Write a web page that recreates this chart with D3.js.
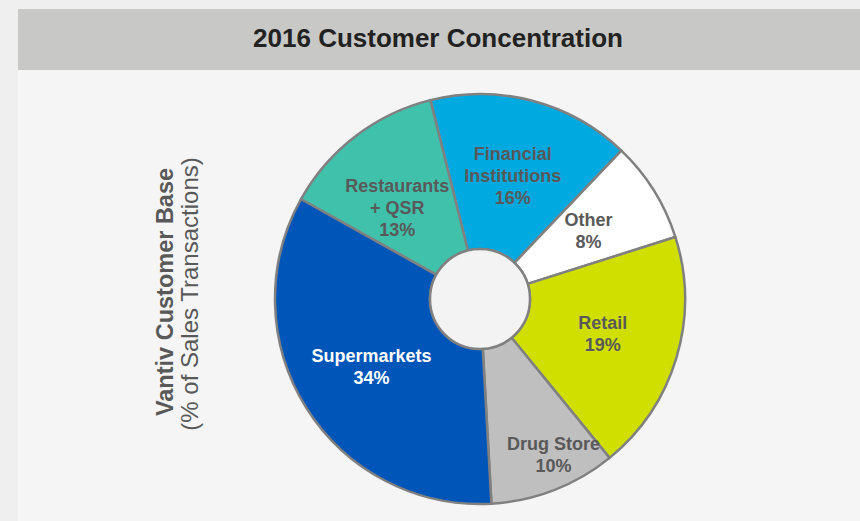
<!DOCTYPE html>
<html>
<head>
<meta charset="utf-8">
<script src="https://cdn.jsdelivr.net/npm/d3@7"></script>
<style>
  body { margin: 0; background: #efefef; }
  svg { display: block; font-family: "Liberation Sans", Arial, sans-serif; }
</style>
</head>
<body>
<svg id="chart" width="860" height="521"></svg>
<script>
// slices in clockwise order, starting at Financial Institutions
const categories = ["Financial Institutions", "Other", "Retail", "Drug Store", "Supermarkets", "Restaurants + QSR"];
const labelLines = [["Financial", "Institutions"], ["Other"], ["Retail"], ["Drug Store"], ["Supermarkets"], ["Restaurants", "+ QSR"]];
const shares = [16, 8, 19, 10, 34, 13];
const colors = ["#00a9e0", "#ffffff", "#d0df00", "#bfbfbf", "#0055b8", "#40c1ac"];

const width = 860, height = 521;
const cx = 480, cy = 299, outerR = 205, innerR = 50;

const svg = d3.select("#chart");

// background panel + title bar
svg.append("rect").attr("x", 18).attr("y", 70).attr("width", width - 18).attr("height", height - 70).attr("fill", "#f5f5f5");
svg.append("rect").attr("x", 18).attr("y", 9).attr("width", width - 18).attr("height", 61).attr("fill", "#c8c8c6");
svg.append("text")
  .attr("x", 438).attr("y", 47)
  .attr("text-anchor", "middle")
  .attr("font-size", 26).attr("font-weight", "bold").attr("fill", "#222")
  .text("2016 Customer Concentration");

// rotated axis label
const yl = svg.append("g").attr("transform", "translate(173,292) rotate(-90)");
yl.append("text").attr("text-anchor", "middle").attr("font-size", 23.5).attr("font-weight", "bold").attr("fill", "#595959")
  .text("Vantiv Customer Base");
yl.append("text").attr("y", 25).attr("x", -2).attr("text-anchor", "middle").attr("font-size", 24).attr("fill", "#595959")
  .text("(% of Sales Transactions)");

const data = categories.map((c, i) => ({ name: c, lines: labelLines[i], value: shares[i], color: colors[i] }));

const startA = -14 * Math.PI / 180;
const pie = d3.pie().value(d => d.value).sort(null)
  .startAngle(startA).endAngle(startA + 2 * Math.PI);
const arc = d3.arc().innerRadius(innerR).outerRadius(outerR);

const g = svg.append("g").attr("transform", `translate(${cx},${cy})`);
const arcs = pie(data);

g.selectAll("path.slice").data(arcs).enter().append("path")
  .attr("class", "slice")
  .attr("d", arc)
  .attr("fill", d => d.data.color)
  .attr("stroke", "#808080")
  .attr("stroke-width", 2.5)
  .attr("stroke-linejoin", "round");

// center hole with same background
g.append("circle").attr("r", innerR).attr("fill", "#f3f3f3").attr("stroke", "#808080").attr("stroke-width", 2.5);

// label placement tweaks (px) on top of the arc-angle position
const labelR = d => d.data.name === "Drug Store" ? 170 : 128;
const nudge = { "Restaurants + QSR": [-5, 10], "Drug Store": [12, -3], "Retail": [0, -2] };
const lineH = 22;

const lbl = g.selectAll("g.lbl").data(arcs).enter().append("g")
  .attr("class", "lbl")
  .attr("transform", d => {
    const a = (d.startAngle + d.endAngle) / 2, r = labelR(d);
    const n = nudge[d.data.name] || [0, 0];
    return `translate(${r * Math.sin(a) + n[0]},${-r * Math.cos(a) + n[1]})`;
  });

lbl.each(function(d) {
  const rows = d.data.lines.concat([d.data.value + "%"]);
  const off = -(rows.length - 1) / 2 * lineH;
  d3.select(this).selectAll("text").data(rows).enter().append("text")
    .attr("y", (t, i) => off + i * lineH)
    .attr("dy", "0.35em")
    .attr("text-anchor", "middle")
    .attr("font-size", 18)
    .attr("font-weight", "bold")
    .attr("fill", d.data.name === "Supermarkets" ? "#ffffff" : "#595959")
    .text(t => t);
});
</script>
</body>
</html>
